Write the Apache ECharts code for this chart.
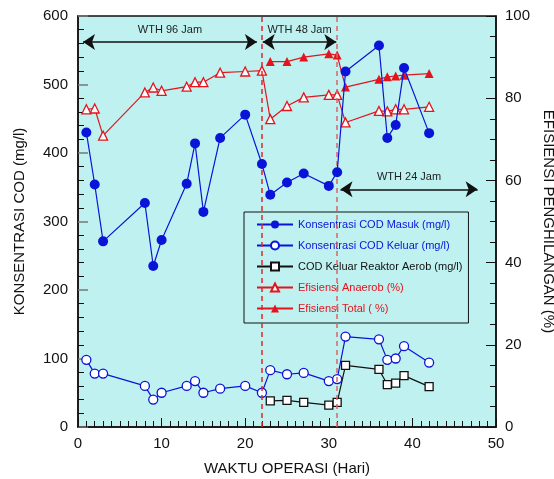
<!DOCTYPE html>
<html>
<head>
<meta charset="utf-8">
<script src="https://cdn.jsdelivr.net/npm/echarts@6/dist/echarts.min.js"></script>
<style>
  html, body { margin: 0; padding: 0; background: #fff; }
  #chart { width: 554px; height: 479px; }
</style>
</head>
<body>
<div id="chart"></div>
<script>
// hari pengamatan
var hari = [1, 2, 3, 8, 9, 10, 13, 14, 15, 17, 20, 22, 23, 25, 27, 30, 31, 32, 36, 37, 38, 39, 42];
var codMasuk = [430, 354, 271, 327, 235, 273, 355, 414, 314, 422, 456, 384, 339, 357, 370, 352, 372, 519, 557, 422, 441, 524, 429];
var codKeluar = [98, 78, 78, 60, 40, 50, 60, 67, 50, 56, 60, 50, 83, 77, 79, 67, 70, 132, 128, 98, 100, 118, 94];
var efAnaerob = [77.3, 77.5, 70.9, 81.4, 82.6, 81.8, 82.8, 83.9, 83.9, 86.2, 86.5, 86.7, 74.9, 78.1, 80.2, 80.8, 80.8, 74.1, 76.9, 76.8, 77.3, 77.3, 77.9];

// mulai hari ke-23 (setelah reaktor aerob)
var hariAerob = [23, 25, 27, 30, 31, 32, 36, 37, 38, 39, 42];
var codAerob = [38, 39, 36, 32, 36, 90, 84, 62, 64, 75, 59];
var efTotal = [88.9, 88.9, 90.0, 90.8, 90.5, 82.7, 84.6, 85.2, 85.4, 85.6, 86.0];

// batas periode WTH
var batasWTH = [22, 31];

var xTicks = [0, 50, 10];
var yLeftTicks = [0, 600, 100];
var yRightTicks = [0, 100, 20];

function pasang(xs, ys) {
    return xs.map(function (x, i) { return [x, ys[i]]; });
}

var biru = '#0a14d8';
var merah = '#e4141c';
var fontUtama = 'Liberation Sans, Arial, sans-serif';

var chart = echarts.init(document.getElementById('chart'));

var panah = function (x1, x2, y, teks) {
    return [
        { coord: [x1, y], symbol: 'arrow', label: { show: true, formatter: teks } },
        { coord: [x2, y], symbol: 'arrow' }
    ];
};

var option = {
    animation: false,
    textStyle: { fontFamily: fontUtama },
    grid: {
        left: 78, right: 58, top: 16, bottom: 52,
        outerBoundsMode: 'none',
        containLabel: false,
        show: true,
        backgroundColor: '#bff1f1',
        borderColor: '#111',
        borderWidth: 1.5
    },
    legend: {
        orient: 'vertical',
        left: 244, top: 212,
        padding: [7, 6, 9, 12],
        width: 225,
        backgroundColor: '#bff1f1',
        borderColor: '#111',
        borderWidth: 1,
        itemWidth: 36,
        itemHeight: 10,
        itemGap: 10,
        textStyle: { fontSize: 11, fontFamily: fontUtama },
        data: [
            { name: 'Konsentrasi COD Masuk (mg/l)', textStyle: { color: biru } },
            { name: 'Konsentrasi COD Keluar (mg/l)', textStyle: { color: biru } },
            { name: 'COD Keluar Reaktor Aerob (mg/l)', textStyle: { color: '#111' } },
            { name: 'Efisiensi Anaerob (%)', textStyle: { color: merah } },
            { name: 'Efisiensi Total ( %)', textStyle: { color: merah } }
        ]
    },
    xAxis: {
        type: 'value',
        min: xTicks[0], max: xTicks[1], interval: xTicks[2],
        name: 'WAKTU OPERASI (Hari)',
        nameLocation: 'middle',
        nameGap: 34,
        nameTextStyle: { fontSize: 15, color: '#111' },
        axisLine: { lineStyle: { color: '#111', width: 1.5 } },
        axisTick: { inside: true, length: 9, lineStyle: { color: '#111' } },
        minorTick: { show: true, splitNumber: 10, length: 6, lineStyle: { color: '#111' } },
        axisLabel: { fontSize: 15, color: '#111', margin: 9 },
        splitLine: { show: false }
    },
    yAxis: [
        {
            type: 'value',
            min: yLeftTicks[0], max: yLeftTicks[1], interval: yLeftTicks[2],
            name: 'KONSENTRASI COD (mg/l)',
            nameLocation: 'middle',
            nameGap: 51,
            nameTextStyle: { fontSize: 15, color: '#111' },
            axisLine: { show: true, lineStyle: { color: '#111', width: 1.5 } },
            axisTick: { inside: true, length: 10, lineStyle: { color: '#777', width: 1.5 } },
            minorTick: { show: true, splitNumber: 5, length: 6, lineStyle: { color: '#111' } },
            axisLabel: { fontSize: 15, color: '#111', margin: 10 },
            splitLine: { show: false }
        },
        {
            type: 'value',
            position: 'right',
            min: yRightTicks[0], max: yRightTicks[1], interval: yRightTicks[2],
            name: 'EFISIENSI PENGHILANGAN (%)',
            nameLocation: 'middle',
            nameRotate: -90,
            nameGap: 27,
            nameTextStyle: { fontSize: 15, color: '#111' },
            axisLine: { show: true, lineStyle: { color: '#111', width: 1.5 } },
            axisTick: { inside: true, length: 10, lineStyle: { color: '#111' } },
            minorTick: { show: true, splitNumber: 4, length: 6, lineStyle: { color: '#111' } },
            axisLabel: { fontSize: 15, color: '#111', margin: 9 },
            splitLine: { show: false }
        }
    ],
    series: [
        {
            name: 'Konsentrasi COD Masuk (mg/l)',
            type: 'line',
            data: pasang(hari, codMasuk),
            symbol: 'circle',
            symbolSize: 10,
            lineStyle: { color: biru, width: 1.2 },
            itemStyle: { color: biru },
            z: 5,
            markLine: {
                silent: true,
                symbol: 'none',
                symbolSize: 12,
                lineStyle: { color: '#111', width: 1.5, type: 'solid' },
                label: {
                    position: 'insideMiddleTop',
                    distance: 7,
                    fontSize: 11,
                    color: '#222',
                    fontFamily: fontUtama
                },
                data: [
                    { xAxis: batasWTH[0], label: { show: false },
                      lineStyle: { color: '#e0262c', width: 1.5, type: [5, 4] } },
                    { xAxis: batasWTH[1], label: { show: false },
                      lineStyle: { color: '#d96565', width: 1.5, type: [5, 4] } },
                    panah(0.6, 21.4, 562, 'WTH 96 Jam'),
                    panah(22.1, 30.9, 562, 'WTH 48 Jam'),
                    panah(31.4, 47.8, 347, 'WTH 24 Jam')
                ]
            }
        },
        {
            name: 'Konsentrasi COD Keluar (mg/l)',
            type: 'line',
            data: pasang(hari, codKeluar),
            symbol: 'circle',
            symbolSize: 9,
            lineStyle: { color: biru, width: 1.2 },
            itemStyle: { color: '#fff', borderColor: biru, borderWidth: 1.3 },
            z: 4
        },
        {
            name: 'COD Keluar Reaktor Aerob (mg/l)',
            type: 'line',
            data: pasang(hariAerob, codAerob),
            symbol: 'rect',
            symbolSize: 8,
            lineStyle: { color: '#111', width: 1.2 },
            itemStyle: { color: '#fff', borderColor: '#111', borderWidth: 1.3 },
            z: 4
        },
        {
            name: 'Efisiensi Anaerob (%)',
            type: 'line',
            yAxisIndex: 1,
            data: pasang(hari, efAnaerob),
            symbol: 'triangle',
            symbolSize: 9,
            lineStyle: { color: merah, width: 1.2 },
            itemStyle: { color: '#fff', borderColor: merah, borderWidth: 1.3 },
            z: 4
        },
        {
            name: 'Efisiensi Total ( %)',
            type: 'line',
            yAxisIndex: 1,
            data: pasang(hariAerob, efTotal),
            symbol: 'triangle',
            symbolSize: 9,
            lineStyle: { color: merah, width: 1.2 },
            itemStyle: { color: merah },
            z: 4
        }
    ]
};

chart.setOption(option);

window.onresize = function () {
    chart.resize();
};
</script>
</body>
</html>
